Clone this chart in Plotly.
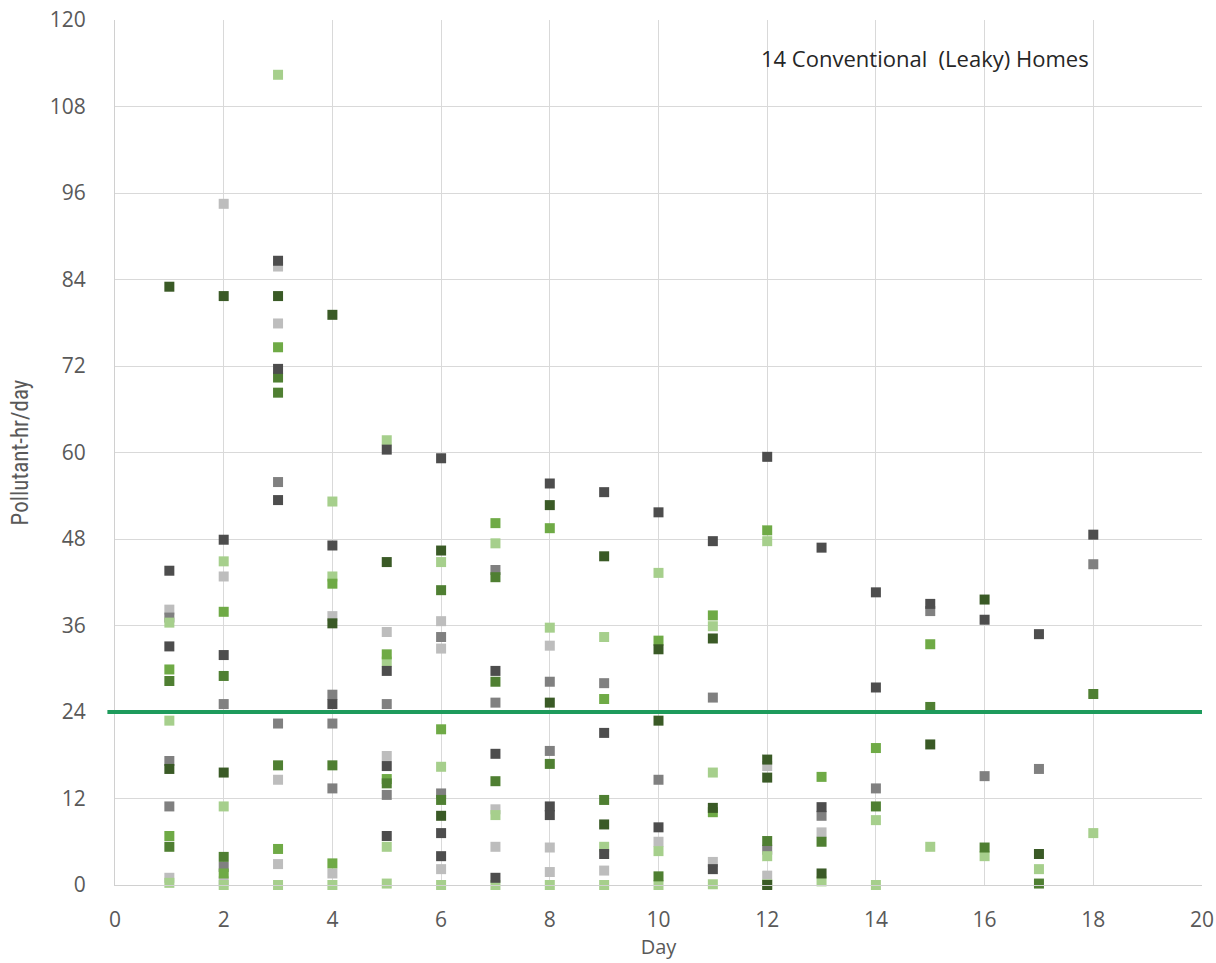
import plotly.graph_objects as go

# Daily pollutant exposure (pollutant-hours per day) for 14 conventional homes,
# grouped by marker colour.
DARK_GREEN_DAYS = [1, 1, 2, 2, 3, 4, 4, 5, 6, 6, 8, 8, 9, 9, 10, 10, 11, 11, 12, 12, 12, 13, 15, 16, 17]
DARK_GREEN_VALS = [83, 16.1, 81.7, 15.6, 81.7, 79.1, 36.3, 44.8, 46.4, 9.6, 52.7, 25.3, 45.6, 8.4,
                   32.7, 22.8, 34.2, 10.7, 17.4, 14.9, 0, 1.6, 19.5, 39.6, 4.3]

OLIVE_GREEN_DAYS = [1, 1, 2, 2, 3, 3, 3, 4, 5, 6, 6, 7, 7, 7, 8, 9, 10, 12, 13, 14, 15, 16, 17, 18]
OLIVE_GREEN_VALS = [28.3, 5.3, 29.0, 3.9, 70.4, 68.3, 16.6, 16.6, 14.1, 40.9, 11.8, 42.7, 28.2, 14.4,
                    16.8, 11.8, 1.2, 6.1, 6.0, 10.9, 24.7, 5.2, 0.2, 26.5]

GREEN_DAYS = [1, 1, 2, 2, 3, 3, 4, 4, 5, 5, 6, 7, 8, 9, 10, 11, 11, 12, 13, 14, 15]
GREEN_VALS = [29.9, 6.8, 37.9, 1.6, 74.6, 5.0, 41.8, 3.0, 32.0, 14.7, 21.6, 50.2, 49.5, 25.8,
              33.9, 37.4, 10.1, 49.2, 15.0, 19.0, 33.4]

LIGHT_GREEN_DAYS = [1, 1, 1, 2, 2, 2, 3, 3, 4, 4, 4, 5, 5, 5, 5, 6, 6, 6, 7, 7, 7, 8, 8, 9, 9, 9,
                    10, 10, 10, 11, 11, 11, 12, 12, 12, 13, 14, 14, 15, 16, 17, 18]
LIGHT_GREEN_VALS = [36.4, 22.8, 0.3, 44.9, 10.9, 0, 112.4, 0, 53.2, 42.8, 0, 61.7, 31.0, 5.3, 0.2,
                    44.8, 16.4, 0, 47.4, 9.7, 0, 35.7, 0, 34.4, 5.3, 0, 43.3, 4.7, 0, 35.9, 15.6, 0.1,
                    47.7, 4.0, 0.1, 0.5, 9.0, 0, 5.3, 4.0, 2.2, 7.2]

DARK_GRAY_DAYS = [1, 1, 2, 2, 3, 3, 3, 4, 4, 5, 5, 5, 5, 6, 6, 6, 7, 7, 7, 8, 8, 8, 9, 9, 9,
                  10, 10, 11, 11, 12, 13, 13, 14, 14, 15, 16, 17, 18]
DARK_GRAY_VALS = [43.6, 33.1, 47.9, 31.9, 86.6, 71.6, 53.4, 47.1, 25.1, 60.4, 29.7, 16.5, 6.8,
                  59.2, 7.2, 4.0, 29.7, 18.2, 1.0, 55.7, 10.9, 9.7, 54.5, 21.1, 4.3, 51.7, 8.0,
                  47.7, 2.2, 59.4, 46.8, 10.8, 40.6, 27.4, 39.0, 36.8, 34.8, 48.6]

GRAY_DAYS = [1, 1, 1, 2, 2, 3, 3, 4, 4, 4, 5, 5, 6, 6, 7, 7, 8, 8, 9, 10, 11, 12, 13, 14, 15, 16, 17, 18]
GRAY_VALS = [37.1, 17.2, 10.9, 25.1, 2.5, 55.9, 22.4, 26.4, 22.4, 13.4, 25.1, 12.5, 34.4, 12.7,
             43.7, 25.3, 28.2, 18.6, 28.0, 14.6, 26.0, 4.9, 9.6, 13.4, 38.0, 15.1, 16.1, 44.5]

LIGHT_GRAY_DAYS = [1, 1, 2, 2, 2, 3, 3, 3, 3, 4, 4, 5, 5, 6, 6, 6, 7, 7, 8, 8, 8, 9, 10, 11, 12, 12, 13]
LIGHT_GRAY_VALS = [38.2, 1.0, 94.5, 42.8, 0.5, 85.8, 77.9, 14.6, 2.9, 37.3, 1.6, 35.1, 17.9,
                   36.6, 32.8, 2.2, 10.5, 5.3, 33.2, 5.2, 1.8, 2.0, 6.0, 3.2, 16.5, 1.3, 7.3]

THRESHOLD = 24
TITLE_TEXT = "14 Conventional  (Leaky) Homes"
X_TICKS = list(range(0, 21, 2))
Y_TICKS = list(range(0, 121, 12))

groups = [
    (LIGHT_GRAY_DAYS, LIGHT_GRAY_VALS, "#BDBDBD"),
    (GRAY_DAYS, GRAY_VALS, "#808080"),
    (LIGHT_GREEN_DAYS, LIGHT_GREEN_VALS, "#A6CF8C"),
    (GREEN_DAYS, GREEN_VALS, "#6FAA46"),
    (OLIVE_GREEN_DAYS, OLIVE_GREEN_VALS, "#4F7F32"),
    (DARK_GRAY_DAYS, DARK_GRAY_VALS, "#4D4D4D"),
    (DARK_GREEN_DAYS, DARK_GREEN_VALS, "#3A5A26"),
]

fig = go.Figure()
for days, vals, color in groups:
    fig.add_trace(go.Scatter(
        x=days, y=vals, mode="markers",
        marker=dict(symbol="square", size=10, color=color, line=dict(width=0)),
        showlegend=False, cliponaxis=False,
    ))

# 24 pollutant-hour reference line
fig.add_shape(type="line", xref="paper", yref="y", x0=-0.007, x1=1, y0=THRESHOLD, y1=THRESHOLD,
              line=dict(color="#1E9B5C", width=4), layer="above")

fig.add_annotation(text=TITLE_TEXT, xref="x", yref="y", x=14.9, y=114.7, showarrow=False,
                   font=dict(family="Open Sans, DejaVu Sans, sans-serif", size=22, color="#262626"))

tick_font = dict(family="Open Sans, DejaVu Sans, sans-serif", size=21, color="#595959")
fig.update_layout(
    width=1216, height=963,
    margin=dict(l=115, r=14, t=20, b=78, autoexpand=False),
    paper_bgcolor="white", plot_bgcolor="white",
    xaxis=dict(range=[0, 20], tickvals=X_TICKS, showgrid=True, gridcolor="#D9D9D9", gridwidth=1,
               zeroline=False, showline=True, linecolor="#D0D0D0", tickfont=tick_font,
               ticklabelstandoff=16, automargin=False,
               title=dict(text="Day", standoff=4,
                          font=dict(family="Open Sans, DejaVu Sans, sans-serif", size=20, color="#595959"))),
    yaxis=dict(range=[0, 120], tickvals=Y_TICKS, showgrid=True, gridcolor="#D9D9D9", gridwidth=1,
               zeroline=False, showline=True, linecolor="#D0D0D0", tickfont=tick_font,
               ticklabelstandoff=24, automargin=False,
               title=dict(text="Pollutant-hr/day", standoff=14,
                          font=dict(family="Liberation Sans Narrow, Roboto Condensed, Roboto, sans-serif",
                                    size=23, color="#595959"))),
)

fig.write_html("out.html")
